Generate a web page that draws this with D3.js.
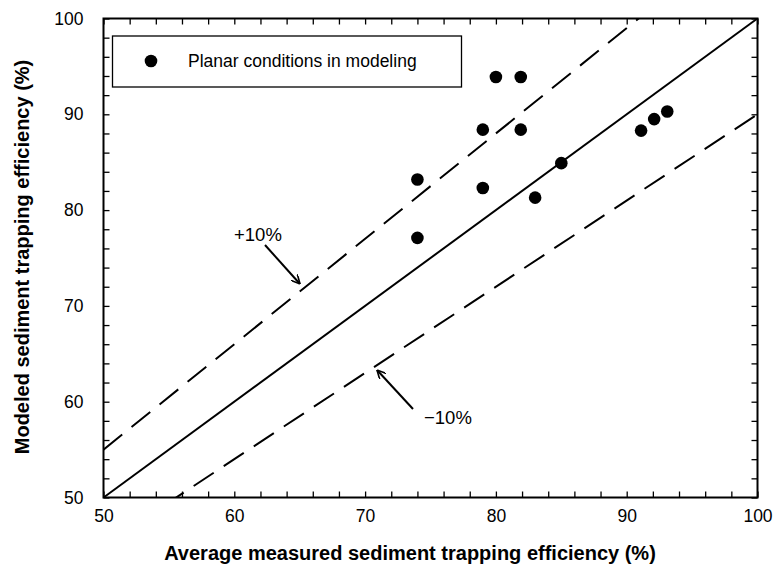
<!DOCTYPE html>
<html><head><meta charset="utf-8">
<script src="https://cdn.jsdelivr.net/npm/d3@7"></script>
<style>body{margin:0;background:#fff}text{font-family:"Liberation Sans",Arial,sans-serif}</style>
</head><body>
<svg id="c" width="773" height="572"></svg>
<script>
const measured = [74.0, 74.0, 79.0, 79.0, 80.0, 81.9, 81.9, 83.0, 85.0, 91.1, 92.1, 93.1];
const modeled  = [83.2, 77.1, 82.3, 88.4, 93.9, 93.9, 88.4, 81.3, 84.9, 88.3, 89.5, 90.3];
const tickValues = [50, 60, 70, 80, 90, 100];
const minorTicks = d3.range(50, 101, 2);
const refLines = [{k:1.0, dash:null},{k:1.1, dash:"24,12"},{k:0.9, dash:"24,12"}];
const legendLabel = "Planar conditions in modeling";

const svg = d3.select("#c");
const L=103.5, R=757.5, T=18.5, B=497.5;
const x = d3.scaleLinear().domain([50,100]).range([L,R]);
const y = d3.scaleLinear().domain([50,100]).range([B,T]);

svg.append("clipPath").attr("id","cp").append("rect").attr("x",L).attr("y",T).attr("width",R-L).attr("height",B-T);

// reference lines
const g = svg.append("g").attr("clip-path","url(#cp)");
refLines.forEach(r=>{
  g.append("line").attr("x1",x(50)).attr("y1",y(50*r.k)).attr("x2",x(100)).attr("y2",y(100*r.k))
   .attr("stroke","#000").attr("stroke-width",2).attr("stroke-dasharray",r.dash);
});

// axes with inside ticks
const ax = (axis, tr) => svg.append("g").attr("transform",tr).call(axis).call(s=>s.select(".domain").remove());
ax(d3.axisBottom(x).tickValues(minorTicks).tickSize(-6).tickFormat(""), `translate(0,${B})`);
ax(d3.axisTop(x).tickValues(minorTicks).tickSize(-6).tickFormat(""), `translate(0,${T})`);
ax(d3.axisLeft(y).tickValues(minorTicks).tickSize(-6).tickFormat(""), `translate(${L},0)`);
ax(d3.axisRight(y).tickValues(minorTicks).tickSize(-6).tickFormat(""), `translate(${R},0)`);
svg.selectAll(".tick line").attr("stroke","#000").attr("stroke-width",1.3);

// tick labels
const xl = svg.append("g").attr("transform",`translate(0,${B})`).call(d3.axisBottom(x).tickValues(tickValues).tickSize(0).tickPadding(12).tickFormat(d3.format("d")));
xl.select(".domain").remove();
xl.selectAll("text").attr("font-size",17.5).attr("fill","#000").attr("font-family","Liberation Sans, Arial, sans-serif");
const yl = svg.append("g").attr("transform",`translate(${L},0)`).call(d3.axisLeft(y).tickValues(tickValues).tickSize(0).tickPadding(20).tickFormat(d3.format("d")));
yl.select(".domain").remove();
yl.selectAll("text").attr("font-size",17.5).attr("fill","#000").attr("font-family","Liberation Sans, Arial, sans-serif");

// frame
svg.append("rect").attr("x",L).attr("y",T).attr("width",R-L).attr("height",B-T).attr("fill","none").attr("stroke","#000").attr("stroke-width",2);

// points
svg.selectAll("circle.pt").data(measured).join("circle").attr("class","pt")
  .attr("cx",(d)=>x(d)).attr("cy",(d,i)=>y(modeled[i])).attr("r",6.3).attr("fill","#000");

// legend
svg.append("rect").attr("x",112.5).attr("y",36).attr("width",349).attr("height",51).attr("fill","#fff").attr("stroke","#000").attr("stroke-width",1.3);
svg.append("circle").attr("cx",151).attr("cy",61).attr("r",6.3).attr("fill","#000");
svg.append("text").attr("x",188).attr("y",67).attr("font-size",17.5).text(legendLabel);

// annotations
const defs = svg.append("defs");
defs.append("marker").attr("id","ah").attr("viewBox","0 0 10 10").attr("refX",10).attr("refY",5)
  .attr("markerWidth",9).attr("markerHeight",9).attr("orient","auto").attr("markerUnits","userSpaceOnUse")
  .append("path").attr("d","M0,0 L10,5 L0,10").attr("fill","none").attr("stroke","#000").attr("stroke-width",1.8);
svg.append("line").attr("x1",265).attr("y1",245).attr("x2",300).attr("y2",284).attr("stroke","#000").attr("stroke-width",2).attr("marker-end","url(#ah)");
svg.append("text").attr("x",234).attr("y",241).attr("font-size",18.5).text("+10%");
svg.append("line").attr("x1",413).attr("y1",409).attr("x2",377).attr("y2",370).attr("stroke","#000").attr("stroke-width",2).attr("marker-end","url(#ah)");
svg.append("text").attr("x",424).attr("y",424).attr("font-size",18.5).text("\u221210%");

// axis titles
svg.append("text").attr("x",410).attr("y",560).attr("text-anchor","middle").attr("font-size",20).attr("font-weight","bold")
  .text("Average measured sediment trapping efficiency (%)");
svg.append("text").attr("transform","translate(29,257) rotate(-90)").attr("text-anchor","middle").attr("font-size",20).attr("font-weight","bold")
  .text("Modeled sediment trapping efficiency (%)");
</script>
</body></html>
